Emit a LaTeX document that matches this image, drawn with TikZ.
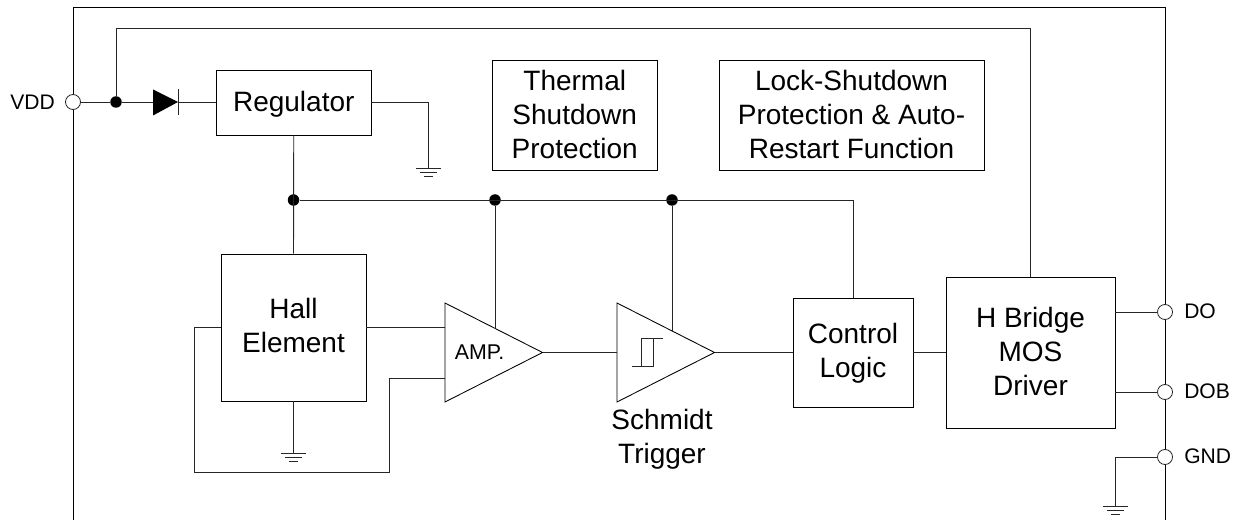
\documentclass[tikz,border=0pt]{standalone}
\usepackage{fontspec}
\setmainfont{Liberation Sans}
\usetikzlibrary{calc}
\newcommand{\lowdepth}[1]{\rule[-#1]{0pt}{#1}}
\tikzset{
  wire/.style={draw=black!85,line width=0.7pt},
  frameline/.style={draw=black,line width=0.65pt},
  sized/.style 2 args={minimum width={#1*0.75pt},minimum height={#2*0.75pt}},
  blockbox/.style={draw=black,line width=0.65pt,fill=white,rectangle,inner sep=0pt,align=center,font=\fontsize{21}{25.5}\selectfont},
  pin/.style={circle,draw=black!85,fill=white,line width=0.6pt,minimum size={15*0.75pt},inner sep=0pt},
  dot/.style={circle,fill=black,minimum size={11.5*0.75pt},inner sep=0pt},
  pinlabel/.style={inner sep=0pt,font=\fontsize{15.8}{18}\selectfont},
  plainlabel/.style={inner sep=0pt,align=center,font=\fontsize{21}{25.5}\selectfont},
  gndbar/.style={draw=black!85,line width=0.6pt},
  gndsym/.pic={
    \draw[gndbar] (-12.5,0)--(12.5,0);
    \draw[gndbar] (-8.5,4.5)--(8.5,4.5);
    \draw[gndbar] (-4.5,8.5)--(4.5,8.5);
  }
}
\begin{document}
\begin{tikzpicture}[x=0.75pt,y=-0.75pt]
\useasboundingbox (0,0) rectangle (1239,520);
% frame
\coordinate (fbl) at (73,520);
\coordinate (ftl) at (73,7.5);
\coordinate (ftr) at (1165,7.5);
\coordinate (fbr) at (1165,520);
\draw[frameline] (fbl)--(ftl)--(ftr)--(fbr);
% blocks
\node[blockbox,sized={154.5}{64.5},text height=15pt,text depth=1.4pt] (reg) at (293.75,102.75) {Regulator};
\node[blockbox,sized={164.5}{110}] (thermal) at (574.75,115) {Thermal\\Shutdown\\Protection\lowdepth{1.5pt}};
\node[blockbox,sized={265}{110}] (lock) at (851.5,115) {Lock-Shutdown\\Protection \& Auto-\\Restart Function\lowdepth{1.5pt}};
\node[blockbox,sized={145}{147}] (hall) at (293.5,327.5) {Hall\\Element\lowdepth{3pt}};
\node[blockbox,sized={120}{109}] (ctrl) at (853,352.5) {\rule{0pt}{17pt}Control\\Logic};
\node[blockbox,sized={169}{151}] (hbr) at (1030.5,352.5) {H Bridge\\MOS\\Driver\lowdepth{1.5pt}};
% pins
\node[pin] (vdd) at (73,102) {};
\node[pin] (do) at (1165,312) {};
\node[pin] (dob) at (1165,392) {};
\node[pin] (gnd) at (1165,457) {};
\node[pinlabel,anchor=east] (lvdd) at (55,102) {VDD};
\node[pinlabel,anchor=west] (ldo) at (1184,311) {DO};
\node[pinlabel,anchor=west] (ldob) at (1184,391) {DOB};
\node[pinlabel,anchor=west] (lgnd) at (1184,456) {GND};
% triangles
\coordinate (atl) at (445,303);
\coordinate (abl) at (445,402);
\coordinate (aout) at (542.5,352.5);
\coordinate (stl) at (617,303);
\coordinate (sbl) at (617,402);
\coordinate (sout) at (714.5,352.5);
\draw[frameline] (atl)--(abl)--(aout)--cycle;
\draw[frameline] (stl)--(sbl)--(sout)--cycle;
\node[inner sep=0pt,font=\fontsize{16}{18}\selectfont] (amp) at (479.5,352) {AMP.};
\node[plainlabel] (schmitt) at (662,439) {Schmidt\\Trigger};
% hysteresis symbol
\draw[wire] (632,366.5)--(653.5,366.5)--(653.5,338)--(663,338);
\draw[wire] (641.5,366.5)--(641.5,338)--(653.5,338);
% diode
\coordinate (da1) at (153,89.5);
\coordinate (da2) at (153,115.5);
\coordinate (dk) at (178,102);
\coordinate (dk1) at (178,89.5);
\coordinate (dk2) at (178,115.5);
\fill[black] (da1)--(da2)--(dk)--cycle;
\draw[wire] (dk1)--(dk2);
% junctions
\node[dot] (j1) at (116,102) {};
\node[dot] (j2) at (293.5,200) {};
\node[dot] (j3) at (495,200) {};
\node[dot] (j4) at (672,200) {};
% wires
\draw[wire] (vdd)--(j1)--(da1|-j1);
\draw[wire] (dk)--(reg.west|-dk);
\coordinate (toptr) at (hbr.north|-0,28);
\draw[wire] (j1)--(j1|-toptr)--(toptr)--(hbr.north);
\coordinate (gndr) at (428,168);
\draw[wire] (reg.east)-|(gndr);
\pic at (gndr) {gndsym};
\draw[wire] (reg.south)--(hall.north);
\draw[wire] (j2)--(j2-|ctrl.north)--(ctrl.north);
\coordinate (ain) at (495,328.5);
\coordinate (sin) at (672,331);
\draw[wire] (j3)--(ain);
\draw[wire] (j4)--(sin);
\coordinate (ha) at (445,327.5);
\draw[wire] (hall.east)--(ha);
\coordinate (hgnd) at (293.5,453);
\draw[wire] (hall.south)--(hgnd);
\pic at (hgnd) {gndsym};
\coordinate (aneg) at (445,378);
\coordinate (fb1) at (389,472);
\coordinate (fb2) at (194,472);
\draw[wire] (aneg)-|(fb1)--(fb2)|-(hall.west);
\coordinate (ain2) at (617,352.5);
\draw[wire] (aout)--(ain2);
\draw[wire] (sout)--(ctrl.west);
\draw[wire] (ctrl.east)--(hbr.west);
\draw[wire] (do)--(hbr.east|-do);
\draw[wire] (dob)--(hbr.east|-dob);
\coordinate (ggnd) at (1115,506);
\draw[wire] (gnd)-|(ggnd);
\pic at (ggnd) {gndsym};
\end{tikzpicture}
\end{document}
